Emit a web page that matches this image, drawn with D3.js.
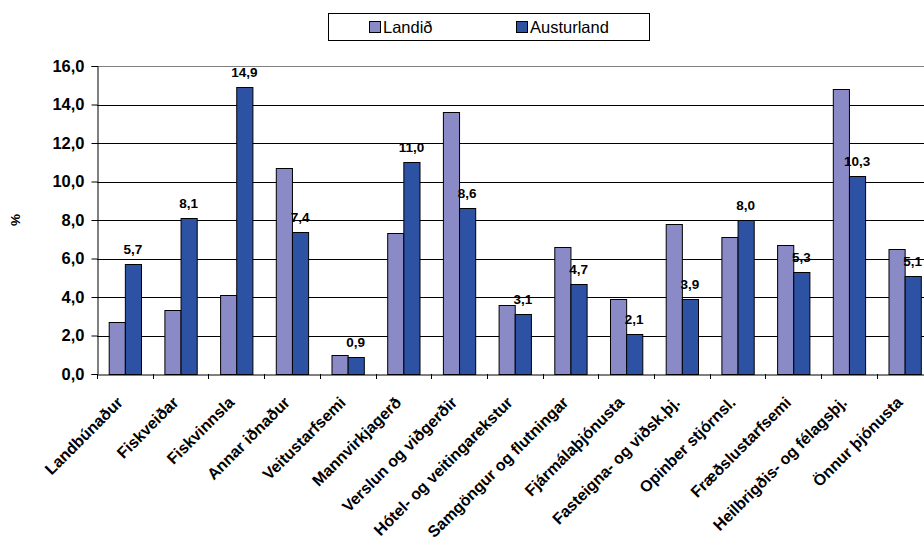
<!DOCTYPE html>
<html>
<head>
<meta charset="utf-8">
<script src="https://cdn.jsdelivr.net/npm/d3@7"></script>
<style>
html,body{margin:0;padding:0;background:#fff;}
svg{display:block;font-family:Arial,"Liberation Sans",sans-serif;}
</style>
</head>
<body>
<svg id="chart" width="924" height="542"></svg>
<script>
const categories = ["Landbúnaður","Fiskveiðar","Fiskvinnsla","Annar iðnaður","Veitustarfsemi","Mannvirkjagerð","Verslun og viðgerðir","Hótel- og veitingarekstur","Samgöngur og flutningar","Fjármálaþjónusta","Fasteigna- og viðsk.þj.","Opinber stjórnsl.","Fræðslustarfsemi","Heilbrigðis- og félagsþj.","Önnur þjónusta"];
const seriesNames = ["Landið","Austurland"];
const landid = [2.7,3.3,4.1,10.7,1.0,7.3,13.6,3.6,6.6,3.9,7.8,7.1,6.7,14.8,6.5];
const austurland = [5.7,8.1,14.9,7.4,0.9,11.0,8.6,3.1,4.7,2.1,3.9,8.0,5.3,10.3,5.1];
const yTicks = [0,2,4,6,8,10,12,14,16];
const colors = ["#8A8AC6","#2D52A3"];

(function(){
const svg = d3.select("#chart");
const FF = "Arial, 'Liberation Sans', sans-serif";
const pLeft = 97, pTop = 66, pBottom = 374, step = 55.7;
const pRight = pLeft + step * categories.length;

const x = d3.scaleBand().domain(categories).range([pLeft, pRight]).padding(0);
const bw = x.bandwidth();
const gap = 11.7;
const xs = d3.scaleBand().domain(seriesNames).range([gap, bw - gap]).padding(0);
const y = d3.scaleLinear().domain([0,16]).range([pBottom, pTop]);

const fmt = v => d3.format(".1f")(v).replace(".", ",");

// gridlines
svg.append("g").selectAll("line").data(yTicks.filter(t => t > 0)).join("line")
  .attr("x1", pLeft).attr("x2", pRight)
  .attr("y1", d => Math.round(y(d)) + 0.5).attr("y2", d => Math.round(y(d)) + 0.5)
  .attr("stroke", d => d === 16 ? "#808080" : "#000").attr("stroke-width", 1);

// bars
const data = categories.map((c, i) => ({c, vals: [landid[i], austurland[i]]}));
const groups = svg.append("g").selectAll("g").data(data).join("g")
  .attr("transform", d => `translate(${x(d.c)},0)`);
groups.selectAll("rect").data(d => d.vals.map((v, j) => ({s: seriesNames[j], v, j}))).join("rect")
  .attr("x", d => xs(d.s) + 0.5)
  .attr("y", d => Math.round(y(d.v)) + 0.5)
  .attr("width", xs.bandwidth())
  .attr("height", d => Math.round(pBottom) - Math.round(y(d.v)))
  .attr("fill", d => colors[d.j])
  .attr("stroke", "#000").attr("stroke-width", 1);

// value labels (Austurland)
groups.append("text")
  .attr("x", d => xs("Austurland") + xs.bandwidth() / 2)
  .attr("y", d => y(d.vals[1]) - 10)
  .attr("text-anchor", "middle")
  .attr("font-size", "13.5px").attr("font-weight", "bold").attr("fill", "#000")
  .text(d => fmt(d.vals[1]));

// y axis
const yAxis = d3.axisLeft(y).tickValues(yTicks).tickSize(6).tickPadding(7).tickFormat(fmt);
const gy = svg.append("g").attr("transform", `translate(${pLeft + 0.5},0)`).call(yAxis);
gy.select(".domain").attr("stroke", "#000");
gy.selectAll(".tick line").attr("stroke", "#000");
gy.selectAll("text").attr("font-size", "16.5px").attr("font-weight", "bold").attr("font-family", FF).attr("fill", "#000");

// x axis
const xAxis = d3.axisBottom(x).tickSize(0).tickFormat(d => d);
const gx = svg.append("g").attr("transform", `translate(0,${pBottom + 0.5})`).call(xAxis);
gx.select(".domain").attr("stroke", "#000");
gx.selectAll(".tick text")
  .attr("font-size", "16px").attr("font-weight", "bold").attr("font-family", FF).attr("fill", "#000")
  .attr("text-anchor", "end")
  .attr("dy", "0").attr("y", 0)
  .attr("transform", "translate(-1,29) rotate(-45)");
// boundary tick marks
svg.append("g").selectAll("line").data(d3.range(categories.length + 1)).join("line")
  .attr("x1", i => Math.round(pLeft + i * step) + 0.5).attr("x2", i => Math.round(pLeft + i * step) + 0.5)
  .attr("y1", pBottom).attr("y2", pBottom + 5)
  .attr("stroke", "#000");

// y title
svg.append("text").attr("transform", "translate(20,220) rotate(-90)")
  .attr("text-anchor", "middle").attr("font-size", "13.5px").attr("font-weight", "bold").text("%");

// legend
const lg = svg.append("g");
lg.append("rect").attr("x", 328.5).attr("y", 13.5).attr("width", 321).attr("height", 27)
  .attr("fill", "#fff").attr("stroke", "#000");
const lx = [369, 516];
seriesNames.forEach((s, i) => {
  lg.append("rect").attr("x", lx[i] + 0.5).attr("y", 21.5).attr("width", 11).attr("height", 11)
    .attr("fill", colors[i]).attr("stroke", "#000");
  lg.append("text").attr("x", lx[i] + 14).attr("y", 33).attr("font-size", "16.5px").text(s);
});
})();
</script>
</body>
</html>
